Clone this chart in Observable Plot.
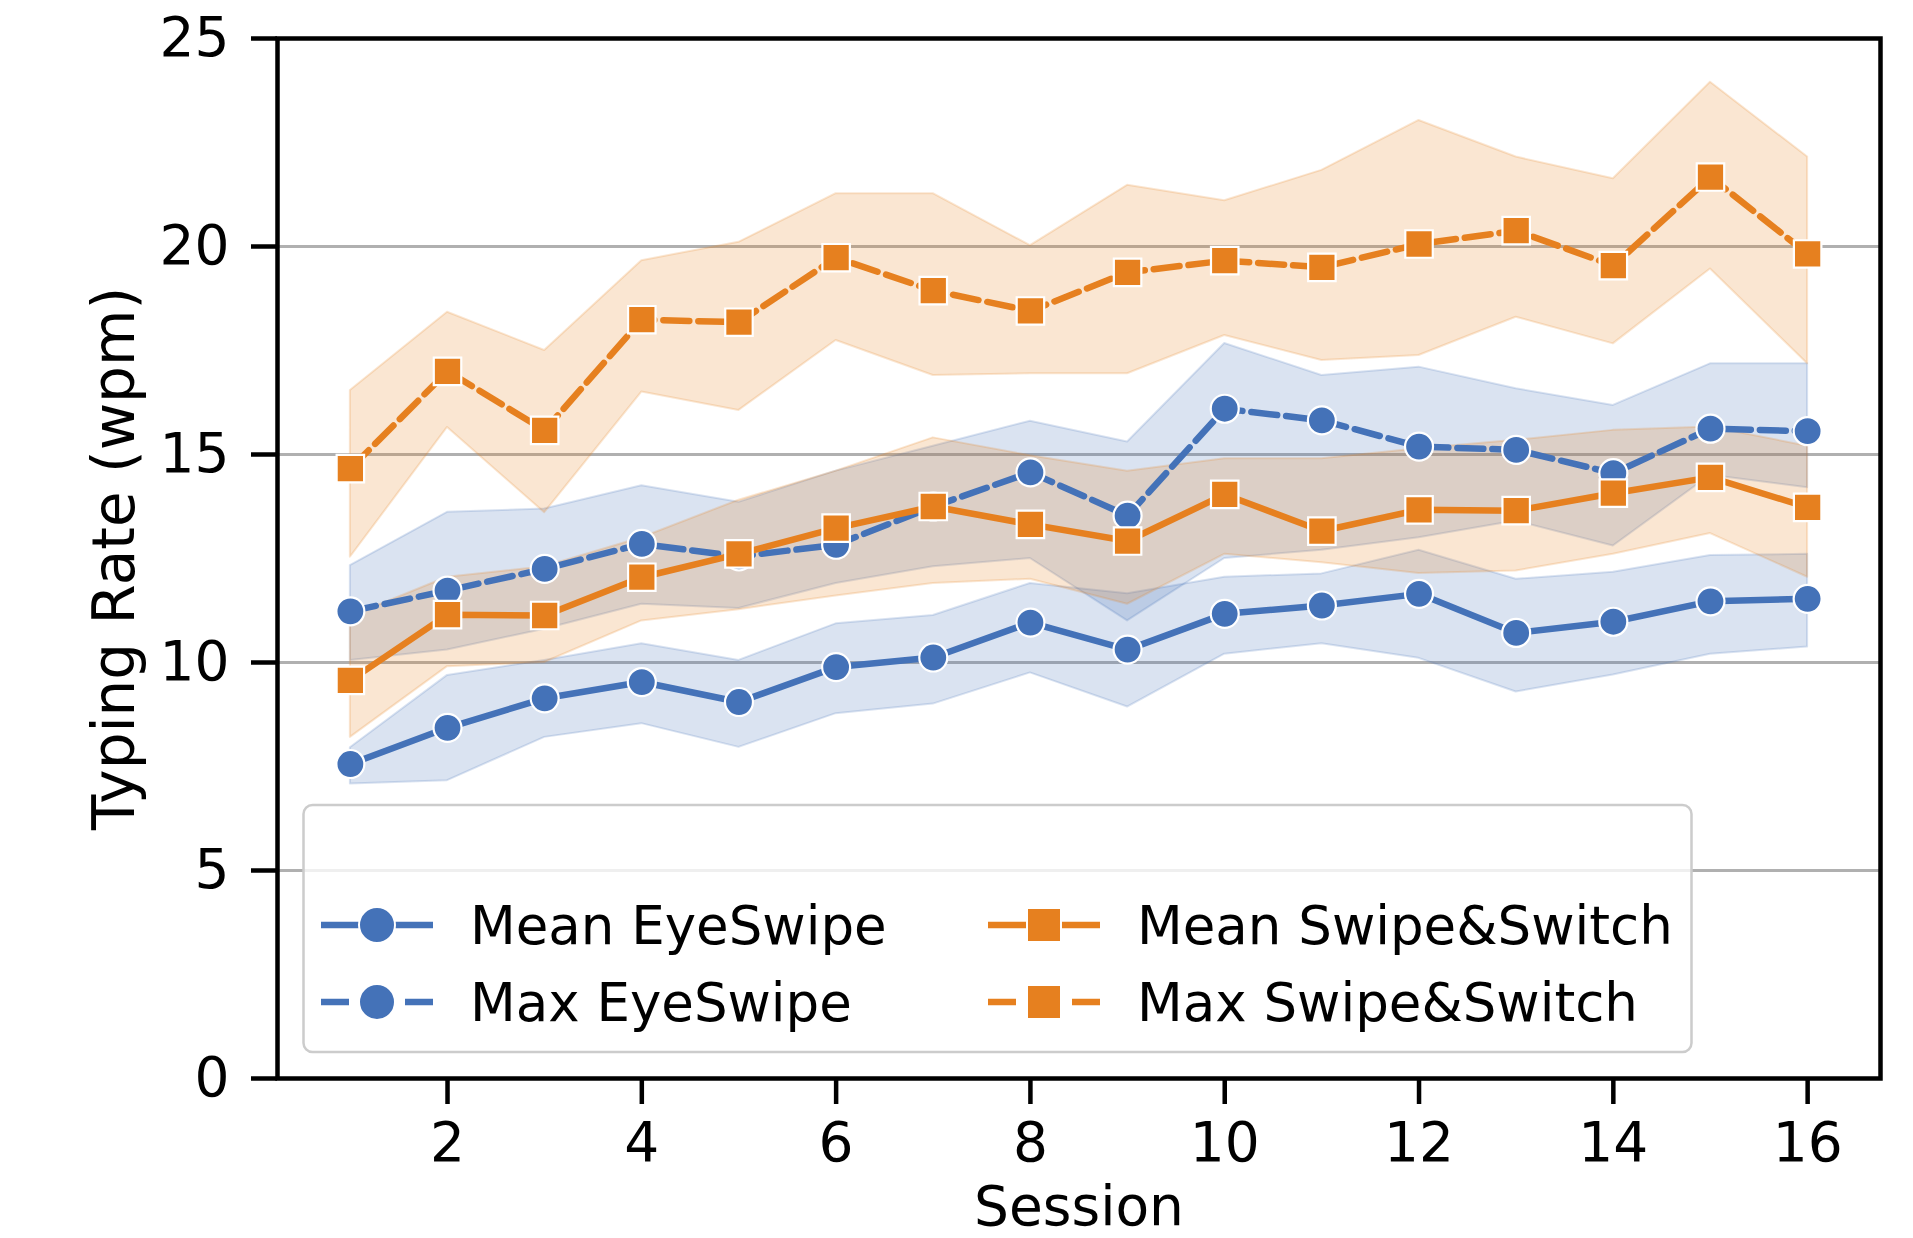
<!DOCTYPE html>
<html><head><meta charset="utf-8">
<script src="https://cdn.jsdelivr.net/npm/d3@7"></script>
<script src="https://cdn.jsdelivr.net/npm/@observablehq/plot@0.6"></script>
<style>
body{margin:0;background:#fff;}
#chart{position:relative;width:1913px;height:1238px;overflow:hidden;}
</style>
</head><body><div id="chart"></div>
<script>
// ---- data ----
const sessions = [1,2,3,4,5,6,7,8,9,10,11,12,13,14,15,16];
const seriesNames = ["Mean EyeSwipe","Max EyeSwipe","Mean Swipe&Switch","Max Swipe&Switch"];
const seriesColors = ["#4472b8","#4472b8","#e6801f","#e6801f"];
const seriesDash = [null,"26,9",null,"26,9"];
const seriesSymbols = ["circle","circle","square","square"];

const meanEye   = [7.56, 8.43, 9.14, 9.53, 9.05, 9.89, 10.12, 10.96, 10.31, 11.17, 11.37, 11.65, 10.71, 10.98, 11.47, 11.53];
const meanEyeLo = [7.08, 7.16, 8.20, 8.53, 7.96, 8.77, 9.00, 9.75, 8.93, 10.20, 10.45, 10.10, 9.29, 9.70, 10.20, 10.37];
const meanEyeHi = [7.95, 9.69, 10.05, 10.45, 10.05, 10.93, 11.13, 11.90, 11.65, 12.05, 12.13, 12.70, 12.00, 12.17, 12.57, 12.60];

const maxEye    = [11.23, 11.73, 12.25, 12.85, 12.55, 12.83, 13.75, 14.57, 13.53, 16.10, 15.82, 15.19, 15.11, 14.55, 15.62, 15.56];
const maxEyeLo  = [10.05, 10.30, 10.80, 11.40, 11.30, 11.90, 12.30, 12.50, 11.00, 12.50, 12.70, 13.00, 13.40, 12.80, 14.50, 14.20];
const maxEyeHi  = [12.33, 13.61, 13.69, 14.25, 13.85, 14.60, 15.20, 15.80, 15.30, 17.67, 16.90, 17.10, 16.58, 16.18, 17.18, 17.18];

const meanSS    = [9.57, 11.15, 11.13, 12.05, 12.61, 13.23, 13.75, 13.32, 12.92, 14.04, 13.16, 13.67, 13.65, 14.07, 14.45, 13.73];
const meanSSLo  = [8.20, 9.90, 10.00, 11.00, 11.27, 11.60, 11.90, 12.00, 11.40, 12.60, 12.40, 12.14, 12.20, 12.60, 13.10, 12.05];
const meanSSHi  = [11.10, 12.05, 12.30, 13.00, 13.90, 14.60, 15.40, 14.97, 14.60, 14.90, 14.90, 15.14, 15.34, 15.58, 15.66, 15.20];

const maxSS     = [14.66, 17.00, 15.58, 18.24, 18.18, 19.73, 18.94, 18.45, 19.38, 19.66, 19.50, 20.06, 20.38, 19.54, 21.67, 19.82];
const maxSSLo   = [12.53, 15.65, 13.60, 16.50, 16.06, 17.74, 16.90, 16.94, 16.94, 17.86, 17.26, 17.38, 18.30, 17.66, 19.46, 17.18];
const maxSSHi   = [16.54, 18.42, 17.50, 19.66, 20.10, 21.27, 21.27, 20.02, 21.47, 21.10, 21.83, 23.03, 22.15, 21.63, 23.95, 22.15];

const xTicks = [2,4,6,8,10,12,14,16];
const yTicks = [0,5,10,15,20,25];
const xLabel = "Session";
const yLabel = "Typing Rate (wpm)";

// ---- build table ----
const values = [meanEye, maxEye, meanSS, maxSS];
const lows   = [meanEyeLo, maxEyeLo, meanSSLo, maxSSLo];
const highs  = [meanEyeHi, maxEyeHi, meanSSHi, maxSSHi];
const rows = [];
seriesNames.forEach((name, i) => sessions.forEach((s, j) => rows.push({series: name, session: s, value: values[i][j], lo: lows[i][j], hi: highs[i][j]})));
const bySeries = name => rows.filter(d => d.series === name);

const FONT = "DejaVu Sans";
const LW = 6.5;
const marks = [];
marks.push(Plot.gridY(yTicks.filter(v => v > 0 && v < 25), {stroke: "#b0b0b0", strokeOpacity: 1, strokeWidth: 3}));
seriesNames.forEach((name, i) => {
  marks.push(Plot.areaY(bySeries(name), {x: "session", y1: "lo", y2: "hi", fill: seriesColors[i], fillOpacity: 0.2, stroke: seriesColors[i], strokeOpacity: 0.2, strokeWidth: 2}));
});
seriesNames.forEach((name, i) => {
  const opts = {x: "session", y: "value", stroke: seriesColors[i], strokeWidth: LW};
  if (seriesDash[i]) opts.strokeDasharray = seriesDash[i];
  marks.push(Plot.line(bySeries(name), opts));
  marks.push(Plot.dot(bySeries(name), {x: "session", y: "value", symbol: seriesSymbols[i], r: seriesSymbols[i] === "square" ? 15.5 : 14, fill: seriesColors[i], stroke: "white", strokeWidth: 2.2}));
});
marks.push(Plot.frame({stroke: "black", strokeWidth: 4.5}));
marks.push(Plot.axisX({ticks: xTicks, tickSize: 26, tickPadding: 17, strokeWidth: 4.5, fontSize: 55, label: null}));
marks.push(Plot.axisY({ticks: yTicks, tickSize: 26, tickPadding: 22, strokeWidth: 4.5, fontSize: 55, label: null}));
marks.push(Plot.text([xLabel], {frameAnchor: "bottom", dy: 146, fontSize: 55, fill: "black", textAnchor: "middle"}));
marks.push(Plot.text([yLabel], {frameAnchor: "left", dx: -162, rotate: -90, fontSize: 58, fill: "black", textAnchor: "middle"}));

const chart = Plot.plot({
  width: 1913, height: 1238,
  marginLeft: 277, marginRight: 33, marginTop: 38, marginBottom: 160,
  style: {fontFamily: FONT, color: "black", background: "white", overflow: "visible"},
  x: {domain: [0.25, 16.75]},
  y: {domain: [0, 25]},
  marks
});
document.getElementById("chart").appendChild(chart);

// ---- legend (inside the axes, lower left) ----
const svg = d3.select(chart);
const lg = svg.append("g").attr("font-family", FONT).attr("font-size", 53).attr("text-anchor", "start");
lg.append("rect").attr("x", 303.5).attr("y", 805).attr("width", 1388).attr("height", 247).attr("rx", 9)
  .attr("fill", "white").attr("fill-opacity", 0.8).attr("stroke", "#cccccc").attr("stroke-width", 2.5);
const colX = [321, 988], rowY = [925, 1002];
seriesNames.forEach((name, i) => {
  const cx = colX[Math.floor(i / 2)], cy = rowY[i % 2];
  const ln = lg.append("line").attr("x1", cx).attr("x2", cx + 112).attr("y1", cy).attr("y2", cy)
    .attr("stroke", seriesColors[i]).attr("stroke-width", LW);
  if (seriesDash[i]) ln.attr("stroke-dasharray", "28,56,28");
  if (seriesSymbols[i] === "circle") {
    lg.append("circle").attr("cx", cx + 56).attr("cy", cy).attr("r", 18).attr("fill", seriesColors[i]).attr("stroke", "white").attr("stroke-width", 2);
  } else {
    lg.append("rect").attr("x", cx + 56 - 17).attr("y", cy - 17).attr("width", 34).attr("height", 34).attr("fill", seriesColors[i]).attr("stroke", "white").attr("stroke-width", 2);
  }
  lg.append("text").attr("x", cx + 149).attr("y", cy + 19).attr("fill", "black").attr("text-anchor", "start").text(name);
});
</script>
</body></html>
